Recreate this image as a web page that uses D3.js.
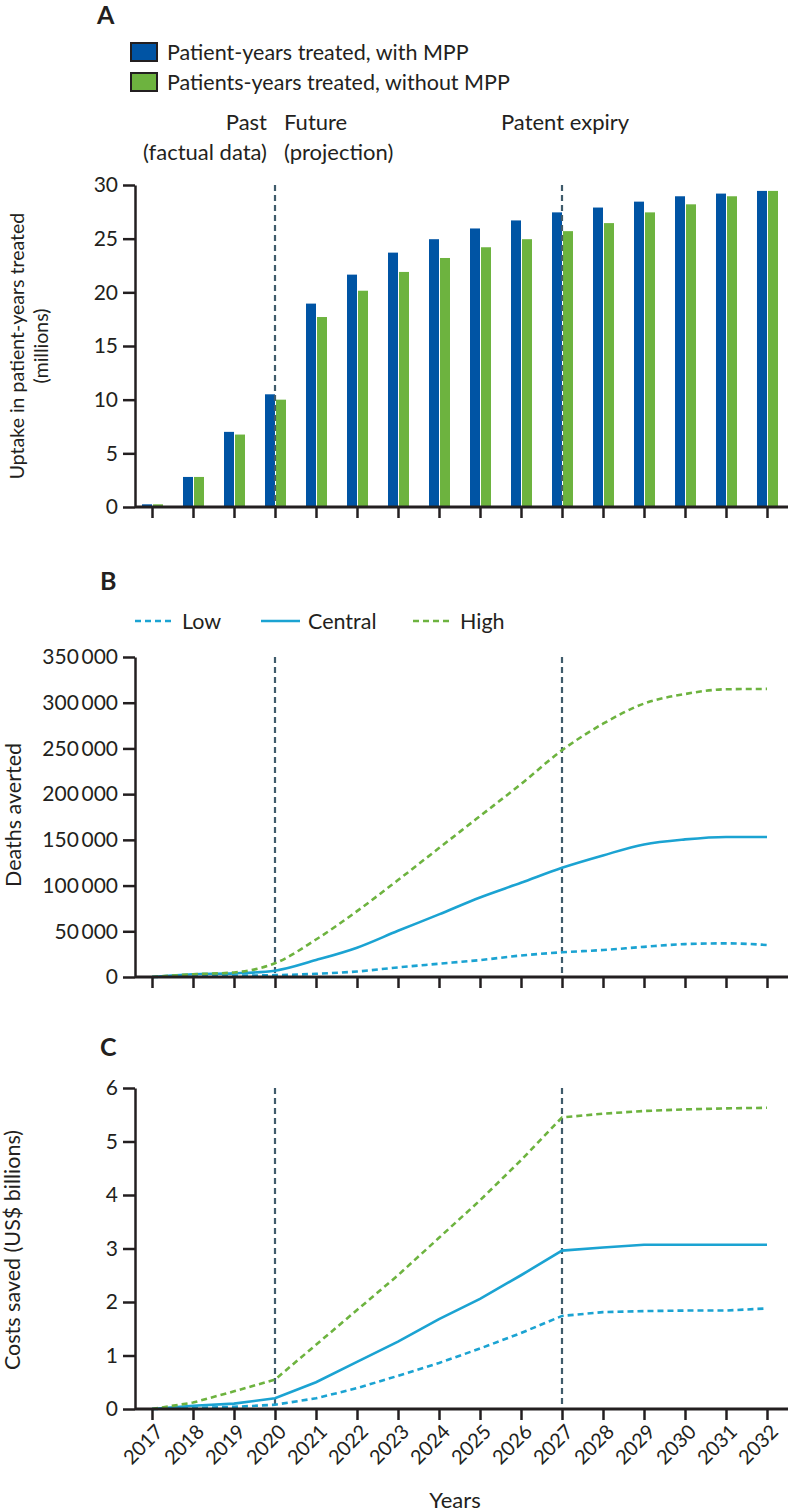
<!DOCTYPE html>
<html><head><meta charset="utf-8">
<script src="https://cdn.jsdelivr.net/npm/d3@7"></script>
<style>
body{margin:0;background:#fff;}
svg text{font-family:Lato,"Noto Sans",sans-serif;fill:#231f20;}
</style></head>
<body>
<svg id="c" width="788" height="1512"></svg>
<script>
const years = [2017,2018,2019,2020,2021,2022,2023,2024,2025,2026,2027,2028,2029,2030,2031,2032];
const withMPP    = [0.25,2.8,7.0,10.5,18.95,21.65,23.7,24.95,25.95,26.7,27.45,27.9,28.45,28.95,29.2,29.45];
const withoutMPP = [0.25,2.8,6.75,10.0,17.7,20.15,21.9,23.2,24.2,24.95,25.7,26.45,27.45,28.2,28.95,29.45];
const deathsLow     = [0,1000,1500,2000,3500,6000,10500,14500,18500,23500,27000,29500,33000,36000,36800,35000];
const deathsCentral = [0,3000,4000,6900,18500,32000,50500,68500,87000,103000,119500,133000,145000,150500,153200,153200];
const deathsHigh    = [0,3000,5000,15000,41000,72000,106000,141000,176000,211000,248000,277000,299000,309500,314700,315100];
const costLow     = [0,0.02,0.04,0.08,0.2,0.39,0.62,0.86,1.13,1.42,1.74,1.81,1.83,1.84,1.84,1.88];
const costCentral = [0,0.06,0.1,0.2,0.5,0.88,1.26,1.68,2.06,2.5,2.96,3.02,3.07,3.07,3.07,3.07];
const costHigh    = [0,0.12,0.33,0.55,1.2,1.85,2.5,3.2,3.9,4.65,5.45,5.52,5.57,5.6,5.62,5.63];
const ticksA = [0,5,10,15,20,25,30];
const ticksB = [0,50000,100000,150000,200000,250000,300000,350000];
const ticksC = [0,1,2,3,4,5,6];
const markerYears = [2020,2027];

const BLUE="#0054a4", GREEN="#6db33f", CYAN="#1ba3d2", VLINE="#3f5b6b", INK="#231f20";
const svg = d3.select("#c");
const x = d3.scaleLinear().domain([2017,2032]).range([152,767]);
const AX0 = 135, AX1 = 788;
const fmt = v => d3.format(",")(v).replace(/,/g,"\u2009");

function xAxis(g, y0, labels){
  const a = d3.axisBottom(x).tickValues(years).tickSize(11).tickSizeOuter(0).tickFormat(labels ? d3.format("d") : "");
  const gg = g.append("g").attr("transform",`translate(0,${y0})`).call(a);
  gg.select(".domain").remove();
  gg.selectAll(".tick line").attr("stroke",INK).attr("stroke-width",2.5);
  gg.append("line").attr("x1",AX0).attr("x2",AX1).attr("y1",0).attr("y2",0).attr("stroke",INK).attr("stroke-width",3);
  if(labels){
    gg.selectAll(".tick text").attr("font-size",20).attr("fill",INK).attr("text-anchor","end")
      .attr("transform","translate(7,19) rotate(-45)").attr("dy","0.35em").attr("y",0).attr("x",0);
  }
  return gg;
}
function yAxis(g, y, ticks, f){
  const a = d3.axisLeft(y).tickValues(ticks).tickSize(12).tickSizeOuter(0).tickPadding(5).tickFormat(f);
  const gg = g.append("g").attr("transform",`translate(${AX0},0)`).call(a);
  gg.select(".domain").attr("stroke",INK).attr("stroke-width",2.5);
  gg.selectAll(".tick line").attr("stroke",INK).attr("stroke-width",2.5);
  gg.selectAll(".tick text").attr("font-size",21).attr("fill",INK);
}
function vlines(g, y){
  markerYears.forEach(yr=>{
    g.append("line").attr("x1",x(yr)).attr("x2",x(yr)).attr("y1",y.range()[1]).attr("y2",y.range()[0])
      .attr("stroke",VLINE).attr("stroke-width",2.2).attr("stroke-dasharray","6,4");
  });
}
function ytitle(lines, cy, fs){
  lines.forEach(([t,bx])=>{
    svg.append("text").attr("transform",`translate(${bx},${cy}) rotate(-90)`).attr("text-anchor","middle")
      .attr("font-size",fs).text(t);
  });
}

// ---------- Panel A ----------
svg.append("text").attr("x",97).attr("y",24).attr("font-size",25).attr("font-weight","bold").text("A");
const legA = [[BLUE,"Patient-years treated, with MPP"],[GREEN,"Patients-years treated, without MPP"]];
legA.forEach(([c,t],i)=>{
  svg.append("rect").attr("x",131).attr("y",43+i*30).attr("width",26).attr("height",18).attr("fill",c).attr("stroke",INK).attr("stroke-width",2);
  svg.append("text").attr("x",167).attr("y",60+i*30).attr("font-size",21.5).text(t);
});
svg.append("text").attr("x",267).attr("y",130).attr("text-anchor","end").attr("font-size",22).text("Past");
svg.append("text").attr("x",267).attr("y",160).attr("text-anchor","end").attr("font-size",22).text("(factual data)");
svg.append("text").attr("x",284).attr("y",130).attr("font-size",22).text("Future");
svg.append("text").attr("x",284).attr("y",160).attr("font-size",22).text("(projection)");
svg.append("text").attr("x",501).attr("y",130).attr("font-size",22).text("Patent expiry");

const yA = d3.scaleLinear().domain([0,30]).range([507,185]);
const gA = svg.append("g");
const bw = 10;
gA.selectAll("rect.b").data(years).join("rect").attr("class","b")
  .attr("x",d=>x(d)-bw).attr("width",bw).attr("y",(d,i)=>yA(withMPP[i])).attr("height",(d,i)=>yA(0)-yA(withMPP[i])).attr("fill",BLUE);
gA.selectAll("rect.g").data(years).join("rect").attr("class","g")
  .attr("x",d=>x(d)+1).attr("width",bw).attr("y",(d,i)=>yA(withoutMPP[i])).attr("height",(d,i)=>yA(0)-yA(withoutMPP[i])).attr("fill",GREEN);
vlines(gA, yA);
yAxis(gA, yA, ticksA, d3.format("d"));
xAxis(gA, 507, false);
ytitle([["Uptake in patient-years treated",24],["(millions)",48]], 346, 19.5);

// ---------- Panel B ----------
svg.append("text").attr("x",100).attr("y",590).attr("font-size",25).attr("font-weight","bold").text("B");
const legB = [["Low",CYAN,"6,4",135],["Central",CYAN,null,261],["High",GREEN,"6,4",413]];
legB.forEach(([t,c,d,lx])=>{
  const l = svg.append("line").attr("x1",lx).attr("x2",lx+39).attr("y1",621).attr("y2",621).attr("stroke",c).attr("stroke-width",2.5);
  if(d) l.attr("stroke-dasharray",d);
  svg.append("text").attr("x",lx+47).attr("y",629).attr("font-size",21.5).text(t);
});
const yB = d3.scaleLinear().domain([0,350000]).range([977,657]);
const gB = svg.append("g");
vlines(gB, yB);
const lineB = d3.line().x((d,i)=>x(years[i])).y(d=>yB(d)).curve(d3.curveMonotoneX);
[[deathsLow,CYAN,"6,4"],[deathsCentral,CYAN,null],[deathsHigh,GREEN,"6,4"]].forEach(([data,c,d])=>{
  const p = gB.append("path").attr("d",lineB(data)).attr("fill","none").attr("stroke",c).attr("stroke-width",2.6);
  if(d) p.attr("stroke-dasharray",d);
});
yAxis(gB, yB, ticksB, fmt);
xAxis(gB, 977, false);
ytitle([["Deaths averted",21]], 815, 21.5);

// ---------- Panel C ----------
svg.append("text").attr("x",100).attr("y",1056).attr("font-size",25).attr("font-weight","bold").text("C");
const yC = d3.scaleLinear().domain([0,6]).range([1409,1088]);
const gC = svg.append("g");
vlines(gC, yC);
const lineC = d3.line().x((d,i)=>x(years[i])).y(d=>yC(d));
[[costLow,CYAN,"6,4"],[costCentral,CYAN,null],[costHigh,GREEN,"6,4"]].forEach(([data,c,d])=>{
  const p = gC.append("path").attr("d",lineC(data)).attr("fill","none").attr("stroke",c).attr("stroke-width",2.6);
  if(d) p.attr("stroke-dasharray",d);
});
yAxis(gC, yC, ticksC, d3.format("d"));
xAxis(gC, 1409, true);
ytitle([["Costs saved (US$ billions)",20]], 1250, 21.5);
svg.append("text").attr("x",455).attr("y",1508).attr("text-anchor","middle").attr("font-size",22).text("Years");
</script>
</body></html>
